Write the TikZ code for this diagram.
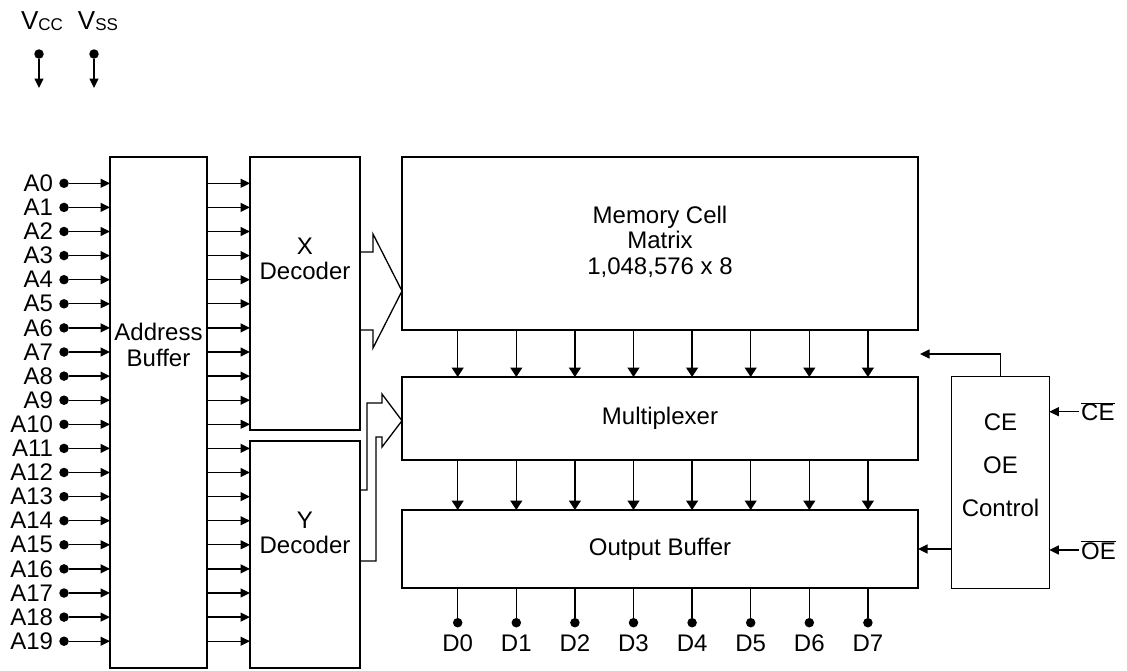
\documentclass[tikz,border=0pt]{standalone}
\usepackage{fontspec}
\setmainfont{Liberation Sans}
\usetikzlibrary{positioning,arrows.meta}
\newcommand{\blkfont}{\fontsize{24}{25.5}\selectfont}
\newcommand{\supply}[1]{\raisebox{-1pt}{\fontsize{17}{17}\selectfont #1}}
\newcommand{\barsig}[1]{$\overline{\mbox{#1}}$}
\tikzset{
  mem-box/.style={draw, line width=1.3pt, inner sep=0pt, outer sep=0pt},
  mem-text/.style={font=\blkfont, align=center, inner sep=2pt},
  mem-pin/.style={circle, fill, inner sep=0pt, minimum size=9.5pt, outer sep=0pt},
  mem-sig/.style={-{Triangle[length=9.5pt,width=9pt]}, line width=1.3pt},
  mem-bus/.style={-{Triangle[length=9.5pt,width=12pt]}, line width=1.3pt},
  mem-wide/.style={line width=1.3pt, line join=miter}
}
\begin{document}
\begin{tikzpicture}[x=1pt,y=-1pt]
\useasboundingbox (0,0) rectangle (1127,670);
% supply pins
\node[mem-text] (vcctxt) at (42,21) {\fontsize{26}{26}\selectfont V\supply{CC}};
\node[mem-text] (vsstxt) at (98,21) {\fontsize{26}{26}\selectfont V\supply{SS}};
\node[mem-pin] (vcc) at (39,54) {};
\node[mem-pin] (vss) at (94,54) {};
\coordinate (vccend) at (39,88);
\coordinate (vssend) at (94,88);
\draw[mem-sig] (vcc) -- (vccend);
\draw[mem-sig] (vss) -- (vssend);
% blocks
\node[mem-box, minimum width=97pt, minimum height=511pt] (addrbuf) at (158.5,412.5) {};
\node[mem-box, minimum width=110pt, minimum height=273pt] (xdec) at (305,293.5) {};
\node[mem-box, minimum width=110pt, minimum height=227pt] (ydec) at (305,554.5) {};
\node[mem-box, minimum width=516pt, minimum height=173pt] (matrix) at (660,243.5)
  {\blkfont\begin{tabular}{c}Memory Cell\\Matrix\\1,048,576 x 8\end{tabular}};
\node[mem-box, minimum width=516pt, minimum height=83pt, font=\blkfont] (mux) at (660,418.5) {Multiplexer};
\node[mem-box, minimum width=516pt, minimum height=78pt, font=\blkfont] (outbuf) at (660,549) {Output Buffer};
\node[mem-box, minimum width=97.6pt, minimum height=211.6pt] (ctrl) at (1000.5,482.5) {};
\node[mem-text] (addrtxt) at (158.5,345) {Address\\Buffer};
\node[mem-text] (xdectxt) at (305,259) {X\\Decoder};
\node[mem-text] (ydectxt) at (305,533) {Y\\Decoder};
\node[mem-text, align=center, font=\fontsize{24}{43}\selectfont] (ctrltxt) at (1000.5,465) {CE\\OE\\Control};
% address inputs
\foreach \i in {0,...,19}{
  \pgfmathsetmacro\yy{183.3+24.1*\i}
  \node[mem-pin] (a\i) at (64,\yy) {};
  \node[mem-text, anchor=east, xshift=-4pt] (a\i txt) at (a\i.west) {A\i};
  \draw[mem-sig] (a\i) -- (a\i -| addrbuf.west);
}
\foreach \i in {0,...,10}
  \draw[mem-sig] (a\i -| addrbuf.east) -- (a\i -| xdec.west);
\foreach \i in {11,...,19}
  \draw[mem-sig] (a\i -| addrbuf.east) -- (a\i -| ydec.west);
% decoder buses
\coordinate (xtip) at (402,291);
\coordinate (ytip) at (402,420.7);
\draw[mem-wide] (360,252) -- (373,252) -- (373,234) -- (xtip)
  -- (373,348) -- (373,330) -- (360,330);
\draw[mem-wide] (360,490) -- (367,490) -- (367,403) -- (382,403) -- (382,394)
  -- (ytip) -- (382,447) -- (382,437) -- (376,437) -- (376,561) -- (360,561);
% data path
\foreach \i in {0,...,7}{
  \pgfmathsetmacro\xx{457.7+58.6*\i}
  \coordinate (d\i) at (\xx,0);
  \draw[mem-bus] (matrix.south -| d\i) -- (mux.north -| d\i);
  \draw[mem-bus] (mux.south -| d\i) -- (outbuf.north -| d\i);
  \node[mem-pin] (dp\i) at (\xx,622.7) {};
  \node[mem-text] (dp\i txt) at (\xx,643) {D\i};
  \draw[line width=1.3pt] (outbuf.south -| d\i) -- (dp\i);
}
% control
\coordinate (ctrltip) at (920,354);
\draw[mem-sig] (ctrl.north) |- (ctrltip);
\draw[mem-sig] (ctrl.west |- outbuf.east) -- (outbuf.east);
\node[mem-text, anchor=west] (cebar) at (1079,411.7) {\barsig{CE}};
\node[mem-text, anchor=west] (oebar) at (1079,550) {\barsig{OE}};
\draw[mem-sig] (cebar.west) -- (cebar.west -| ctrl.east);
\draw[mem-sig] (oebar.west) -- (oebar.west -| ctrl.east);
\end{tikzpicture}
\end{document}
